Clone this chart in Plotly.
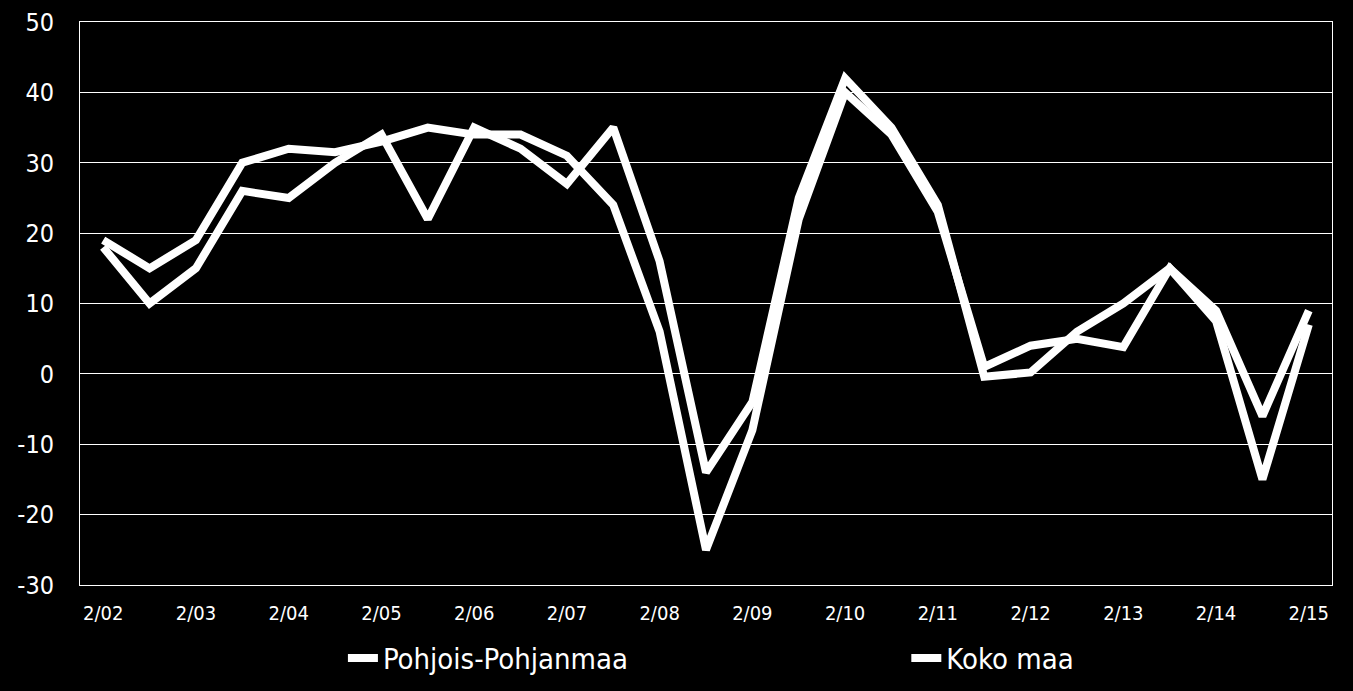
import plotly.graph_objects as go

# half-year survey rounds, 2/02 ... 2/15
periods = []
for yr in range(2, 16):
    periods.append("2/%02d" % yr)
    if yr < 15:
        periods.append("9/%02d" % yr)

tick_labels = ["2/%02d" % yr for yr in range(2, 16)]
y_ticks = [50, 40, 30, 20, 10, 0, -10, -20, -30]
y_tick_text = ["50", "40", "30", "20", "10", "0", "-10", "-20", "-30"]

pohjois_pohjanmaa = [18, 10, 15, 26, 25, 30, 34, 22, 35, 32, 27, 35, 16, -14,
                     -4, 25, 42, 35, 24, -0.4, 0.2, 6, 10, 15, 7.5, -15, 7]
koko_maa = [19, 15, 19, 30, 32, 31.5, 33, 35, 34, 34, 31, 24, 6, -25,
            -8, 22, 40, 34, 23, 1, 4, 5, 3.8, 15, 9, -6, 9]

FONT = "DejaVu Sans Condensed, Tahoma, sans-serif"

fig = go.Figure()

fig.add_trace(go.Scatter(
    x=periods, y=pohjois_pohjanmaa, mode="lines", name="Pohjois-Pohjanmaa",
    line=dict(color="white", width=8), legend="legend",
))
fig.add_trace(go.Scatter(
    x=periods, y=koko_maa, mode="lines", name="Koko maa",
    line=dict(color="white", width=8), legend="legend2",
))

fig.update_xaxes(
    type="category",
    categoryorder="array",
    categoryarray=periods,
    range=[-0.5, len(periods) - 0.5],
    tickvals=tick_labels,
    ticktext=tick_labels,
    tickfont=dict(size=20, color="white", family=FONT),
    showgrid=False,
    showline=True, linecolor="white", linewidth=1, mirror=True,
    ticks="", ticklabelstandoff=10,
)
fig.update_yaxes(
    range=[-30.001, 50.001],
    tickvals=y_ticks,
    ticktext=y_tick_text,
    tickfont=dict(size=25, color="white", family=FONT),
    gridcolor="white", gridwidth=1,
    zeroline=True, zerolinecolor="white", zerolinewidth=1,
    showline=True, linecolor="white", linewidth=1, mirror=True,
    ticks="", ticklabelstandoff=20,
)

legend_style = dict(
    orientation="h",
    yanchor="middle", y=-0.13,
    xanchor="left",
    font=dict(size=29, color="white", family=FONT),
    bgcolor="rgba(0,0,0,0)",
)

fig.update_layout(
    width=1353,
    height=691,
    paper_bgcolor="black",
    plot_bgcolor="black",
    margin=dict(l=80, r=21, t=22, b=106, autoexpand=False),
    font=dict(family=FONT, color="white"),
    showlegend=True,
    legend=dict(x=0.21, **legend_style),
    legend2=dict(x=0.66, **legend_style),
)

# drop the default page margin so the black figure fills the window
fig.write_html(
    "out.html",
    config={"displayModeBar": False},
    post_script="document.body.style.margin='0';document.body.style.background='black';",
)
